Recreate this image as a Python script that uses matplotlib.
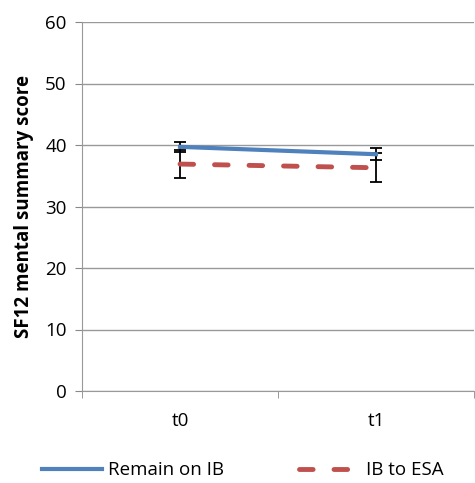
import numpy as np
import matplotlib.pyplot as plt

plt.rcParams['font.family'] = ['Open Sans', 'DejaVu Sans']

# data
times = ["t0", "t1"]
remain_ib = [39.7, 38.5]
remain_ib_err = [0.85, 0.95]
ib_to_esa = [36.9, 36.3]
ib_to_esa_err = [2.3, 2.35]

fig = plt.figure(figsize=(4.75, 4.83), dpi=100)
ax = fig.add_axes([82/475, 1-391/483, 392/475, 369/483])

x = np.arange(len(times))

ax.errorbar(x, remain_ib, yerr=remain_ib_err, color='#4F81BD', lw=3,
            ecolor='black', elinewidth=1.3, capsize=4, capthick=1.3,
            label="Remain on IB", zorder=3)
ax.errorbar(x, ib_to_esa, yerr=ib_to_esa_err, color='#C0504D', lw=3.5,
            ls=(0, (2.8, 4.3)), dash_capstyle='round',
            ecolor='black', elinewidth=1.3, capsize=4, capthick=1.3,
            label="IB to ESA", zorder=3)

ax.set_xlim(-0.5, 1.5)
ax.set_ylim(0, 60)
ax.set_yticks(range(0, 61, 10))
ax.set_xticks(x)
ax.set_xticklabels(times)
ax.set_xticks([-0.5, 0.5, 1.5], minor=True)
ax.tick_params(axis='x', which='major', length=0, pad=15, labelsize=13.5)
ax.tick_params(axis='x', which='minor', length=5, color='#888888')
ax.tick_params(axis='y', length=5, color='#888888', labelsize=13.5, pad=6)

ax.grid(axis='y', color='#999999', lw=1)
ax.set_axisbelow(True)
for s in ['top', 'right']:
    ax.spines[s].set_visible(False)
for s in ['left', 'bottom']:
    ax.spines[s].set_color('#999999')

ax.set_ylabel('SF12 mental summary score', fontsize=13.5, fontweight='bold', labelpad=8)

h, l = ax.get_legend_handles_labels()
h = [hh[0] for hh in h]
ax.legend(h, l, loc='center', bbox_to_anchor=(0.41, -0.215), ncol=2, frameon=False,
          fontsize=13.5, handlelength=3.2, handletextpad=0.35, columnspacing=4.0)

fig.savefig('out.png', dpi=100)
